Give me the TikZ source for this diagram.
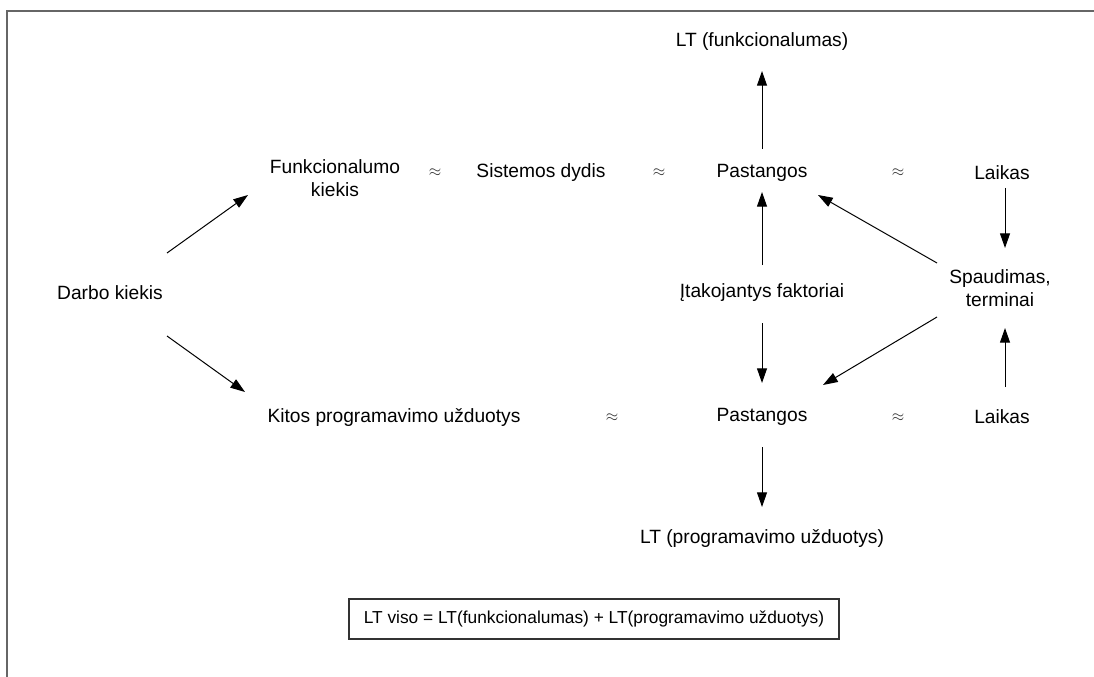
\documentclass[tikz,border=0pt]{standalone}
\usepackage{fontspec}
\setmainfont{Liberation Sans}
\usetikzlibrary{arrows.meta}
\tikzset{
  >={Triangle[length=11pt,width=7.5pt]},
  every node/.style={font=\fontsize{14.4}{17.5}\selectfont, inner sep=0pt},
  twoline/.style={align=center},
  aprx/.style={text=black!80, font=\fontsize{12.5}{14}\selectfont},
  link/.style={draw, line width=0.75pt, ->},
  sumbox/.style={draw=black!80, line width=1pt, font=\fontsize{13}{16}\selectfont,
                 minimum width=367.5pt, minimum height=30pt}
}

\begin{document}
\begin{tikzpicture}[x=0.75pt,y=-0.75pt]
\useasboundingbox (0,0) rectangle (1094,677);
\draw[black!60, line width=1.5pt] (7,677) -- (7,11) -- (1094,11);

% left part
\node (darbo) at (110,293) {Darbo kiekis};
\node[twoline] (funk) at (335,178) {Funkcionalumo\\kiekis};
\node (kitos) at (394,417) {Kitos programavimo užduotys};

% upper row
\node (sist) at (541,173) {Sistemos dydis};
\node (pastTop) at (762,173) {Pastangos};
\node (laikasTop) at (1002,173) {Laikas};
\node (ltfunk) at (762,42) {LT (funkcionalumas)};

% middle
\node (itak) at (762,293) {Įtakojantys faktoriai};
\node[twoline] (spaud) at (1000,288) {Spaudimas,\\terminai};

% lower row
\node (pastBot) at (762,417) {Pastangos};
\node (laikasBot) at (1002,417) {Laikas};
\node (ltprog) at (762,538) {LT (programavimo užduotys)};

\node[sumbox] (suma) at (594,619) {LT viso = LT(funkcionalumas) + LT(programavimo užduotys)};

% approx signs
\foreach \px/\py/\nm in {435/173/ap1, 659/173/ap2, 898/173/ap3, 612/418/ap4, 898/418/ap5}
  \node[aprx] (\nm) at (\px,\py) {$\approx$};

% connectors
\draw[link] ([shift={(57,-40)}]darbo.center) -- ([shift={(-87,17)}]funk.center);
\draw[link] ([shift={(57,43)}]darbo.center) -- ([shift={(-149,-25)}]kitos.center);
\draw[link] ([shift={(0,-24)}]pastTop.center) -- ([shift={(0,29)}]ltfunk.center);
\draw[link] ([shift={(0,-28)}]itak.center) -- ([shift={(0,19)}]pastTop.center);
\draw[link] ([shift={(0,30)}]itak.center) -- ([shift={(0,-34)}]pastBot.center);
\draw[link] ([shift={(0,30)}]pastBot.center) -- ([shift={(0,-31)}]ltprog.center);
\draw[link] ([shift={(3,15)}]laikasTop.center) -- ([shift={(5,-40)}]spaud.center);
\draw[link] ([shift={(3,-30)}]laikasBot.center) -- ([shift={(5,40)}]spaud.center);
\draw[link] ([shift={(-63,-25)}]spaud.center) -- ([shift={(56,22)}]pastTop.center);
\draw[link] ([shift={(-63,29)}]spaud.center) -- ([shift={(61,-32)}]pastBot.center);
\end{tikzpicture}
\end{document}
